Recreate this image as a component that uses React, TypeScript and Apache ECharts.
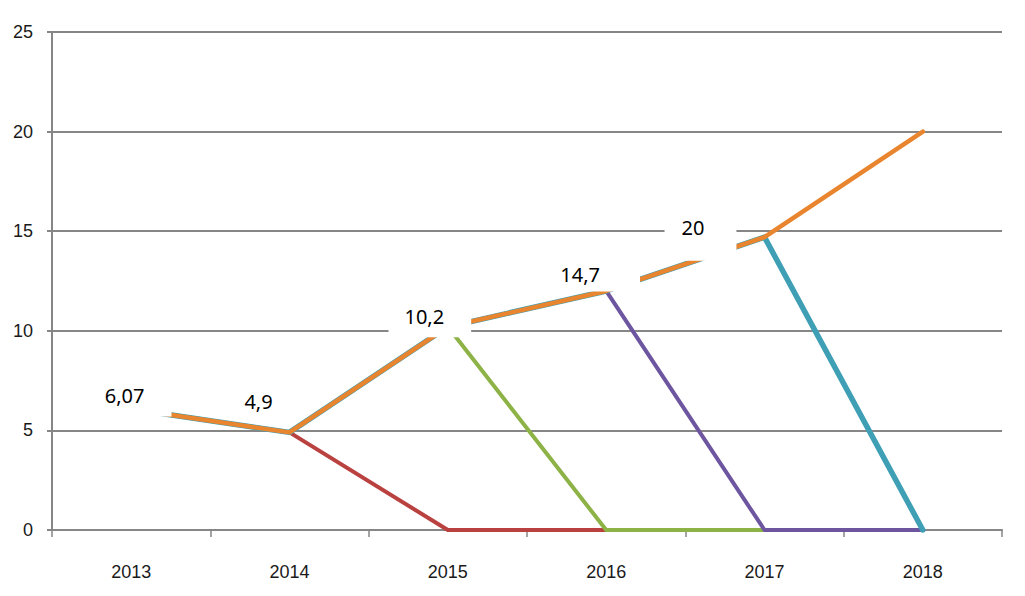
import React, { useEffect, useRef } from "react";
import * as echarts from "echarts";

const years = ["2013", "2014", "2015", "2016", "2017", "2018"];
const seriesRed = [6.07, 4.9, 0, 0, 0, 0];
const seriesGreen = [6.07, 4.9, 10.2, 0, 0, 0];
const seriesPurple = [6.07, 4.9, 10.2, 12, 0, 0];
const seriesTeal = [6.07, 4.9, 10.2, 12, 14.7, 0];
const seriesOrange = [6.07, 4.9, 10.2, 12, 14.7, 20];
const dataLabels = ["6,07", "4,9", "10,2", "14,7", "20", ""];

const labelStyles = [
  { offset: [2, -14], padding: [6, 27, 17, 10] },
  { offset: [-31, -31], padding: [2, 2, 2, 2] },
  { offset: [-18, -10], padding: [10, 27, 11, 16] },
  { offset: [-12, -16], padding: [5, 40, 8, 12] },
  { offset: [-64, -10], padding: [23, 32, 24, 17] },
  { offset: [0, 0], padding: [0, 0, 0, 0] },
];

const axisFont = '"Liberation Sans", Arial, sans-serif';
const labelFont = '"Noto Sans", "Open Sans", sans-serif';

export default function App() {
  const ref = useRef<HTMLDivElement>(null);
  useEffect(() => {
    if (!ref.current) return;
    const chart = echarts.init(ref.current, null, { renderer: "svg" });
    const lineSeries = (name: string, data: number[], color: string, width: number) => ({
      name,
      type: "line",
      data,
      showSymbol: false,
      symbol: "none",
      lineStyle: { color, width, cap: "round", join: "round" },
      itemStyle: { color },
      emphasis: { disabled: true },
    });
    chart.setOption({
      animation: false,
      backgroundColor: "#ffffff",
      grid: { left: 52, right: 23, top: 32, bottom: 66, containLabel: false },
      xAxis: {
        type: "category",
        data: years,
        boundaryGap: true,
        axisLine: { lineStyle: { color: "#868686", width: 2 } },
        axisTick: { show: true, length: 7, lineStyle: { color: "#868686", width: 1.5 } },
        axisLabel: { margin: 33, fontFamily: axisFont, fontSize: 18, color: "#1a1a1a" },
        splitLine: { show: false },
      },
      yAxis: {
        type: "value",
        min: 0,
        max: 25,
        interval: 5,
        axisLine: { show: true, lineStyle: { color: "#868686", width: 2 } },
        axisTick: { show: true, length: 5, lineStyle: { color: "#868686", width: 2 } },
        axisLabel: { margin: 19, fontFamily: axisFont, fontSize: 18, color: "#1a1a1a" },
        splitLine: { show: true, lineStyle: { color: "#868686", width: 2 } },
      },
      series: [
        lineSeries("s1", seriesRed, "#B9413F", 4),
        lineSeries("s2", seriesGreen, "#8DB347", 4),
        lineSeries("s3", seriesPurple, "#6D55A0", 4),
        lineSeries("s4", seriesTeal, "#3F9FB5", 5.5),
        {
          name: "s5",
          type: "line",
          showSymbol: true,
          symbol: "circle",
          symbolSize: 1,
          lineStyle: { color: "#E8852E", width: 4.5, cap: "round", join: "round" },
          itemStyle: { color: "#E8852E" },
          emphasis: { disabled: true },
          z: 5,
          data: seriesOrange.map((v, i) => ({
            value: v,
            label: {
              show: dataLabels[i] !== "",
              formatter: dataLabels[i],
              position: "inside",
              offset: labelStyles[i].offset,
              padding: labelStyles[i].padding,
              backgroundColor: "#ffffff",
              color: "#000000",
              fontFamily: labelFont,
              fontSize: 20,
              lineHeight: 20,
            },
          })),
        },
      ],
    });
    return () => chart.dispose();
  }, []);
  return (
    <div
      ref={ref}
      style={{ position: "fixed", left: 0, top: 0, width: 1025, height: 596, background: "#fff" }}
    />
  );
}
